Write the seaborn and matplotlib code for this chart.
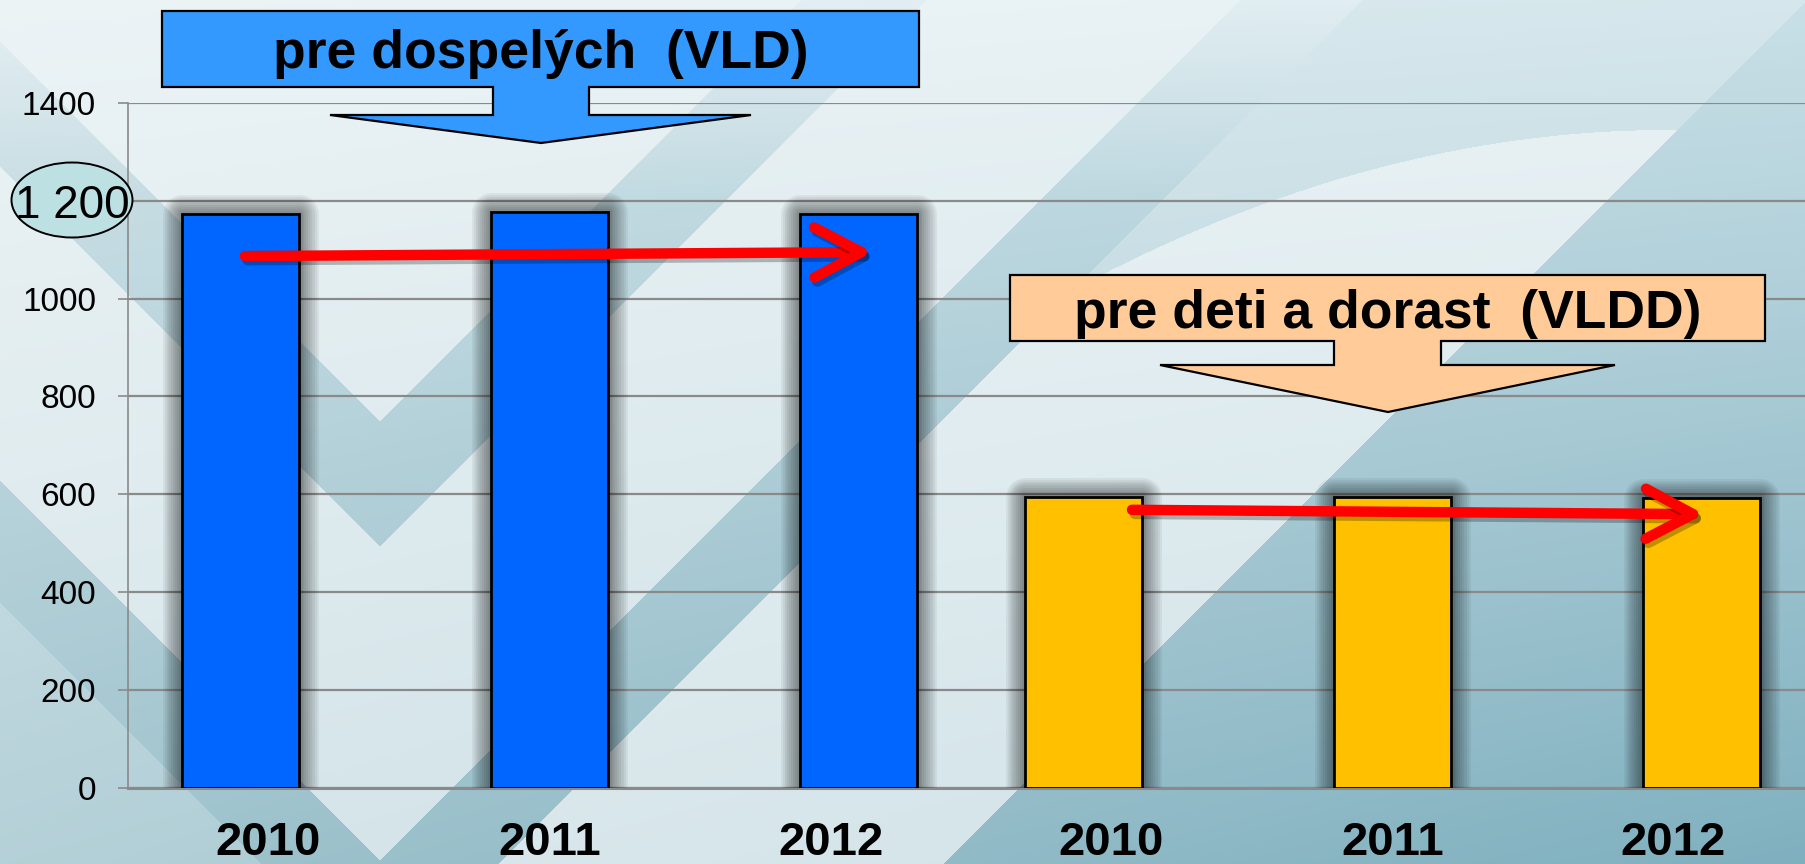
import numpy as np
import pandas as pd
import matplotlib
matplotlib.use("Agg")
import matplotlib.pyplot as plt
import seaborn as sns
from matplotlib.patches import Polygon, Ellipse, FancyArrowPatch, ArrowStyle
import matplotlib.patheffects as pe

# ---------------- data ----------------
years = ["2010", "2011", "2012"]
groups = ["VLD", "VLDD"]
vld_values = [1173, 1177, 1173]
vldd_values = [594, 594, 593]
y_ticks = [0, 200, 400, 600, 800, 1000, 1200, 1400]
y_tick_labels = ["0", "200", "400", "600", "800", "1000", "", "1400"]
highlight_label = "1 200"
callout_vld = "pre dospelých  (VLD)"
callout_vldd = "pre deti a dorast  (VLDD)"
group_colors = {"VLD": "#0066ff", "VLDD": "#ffc000"}

W, H = 1806, 864
sns.set_theme(style="white")
plt.rcParams["font.family"] = ["Liberation Sans", "DejaVu Sans"]

fig = plt.figure(figsize=(W / 100, H / 100), dpi=100)

# ---------------- background (decorative watermark) ----------------
def hex2rgb(h):
    return np.array([int(h[i:i + 2], 16) for i in (1, 3, 5)]) / 255.0

xx, yy = np.meshgrid(np.arange(W) + 0.5, np.arange(H) + 0.5)
fx, fy = (xx / W)[..., None], (yy / H)[..., None]
TL, TR, BL, BR = map(hex2rgb, ["#cfe2e8", "#c4dde5", "#9cc1cb", "#74a9b9"])
base = TL * (1 - fx) * (1 - fy) + TR * fx * (1 - fy) + BL * (1 - fx) * fy + BR * fx * fy
u = yy + np.abs(xx - 380)
w = xx + yy
yc = 130 + 160 * np.clip((1669 - xx) / 596, 0, 1) ** 2
f = np.full((H, W), 0.6)
band = ((u >= 422) & (u <= 546)) | ((u >= 861) & (u <= 982))
low = u > 982
f[low & (xx <= 380)] = 0.25
f[low & (xx > 380) & (w < 1808) & (yy >= yc)] = 0.65
f[low & (xx > 380) & (w < 1808) & (yy < yc)] = 0.3
f[low & (xx > 380) & (w >= 1808)] = 0.08
band_f = 0.06 + 0.4 * np.clip((200 - yy) / 200, 0, 1)
f[band] = band_f[band]
img = base * (1 - f[..., None]) + f[..., None]
bg = fig.add_axes([0, 0, 1, 1], zorder=-10)
bg.imshow(img, extent=(0, W, H, 0), aspect="auto", interpolation="bilinear")
bg.set_xlim(0, W)
bg.set_ylim(H, 0)
bg.axis("off")

# ---------------- main axes ----------------
y0, y1400 = 787.5, 103.0
ax = fig.add_axes([128 / W, (H - y0) / H, 1686 / W, (y0 - y1400) / H])
ax.patch.set_alpha(0)

df = pd.DataFrame({
    "group": np.repeat(groups, len(years)),
    "year": years * len(groups),
    "value": vld_values + vldd_values,
})
gi = df["group"].map({g: i for i, g in enumerate(groups)})
yi = df["year"].map({y: i for i, y in enumerate(years)})
df["pos"] = 3 * gi + 0.4 + 1.1 * yi

sns.barplot(data=df, x="pos", y="value", hue="group", palette=group_colors,
            native_scale=True, width=0.52, dodge=False, legend=False, saturation=1,
            edgecolor="black", linewidth=2, errorbar=None, ax=ax, zorder=3)

shadow = [pe.Stroke(linewidth=lw, foreground="black", alpha=0.055, joinstyle="round")
          for lw in (28, 25, 22, 19, 16, 13, 10, 7, 5)]
for p in ax.patches:
    p.set_path_effects(shadow + [pe.Normal()])

ax.set_xlim(0, 6)
ax.set_ylim(0, 1400)
ax.set_yticks(y_ticks)
ax.set_yticklabels(y_tick_labels, fontsize=24, color="black")
ax.yaxis.grid(True, color="#8a8a8a", lw=1.6)
ax.set_axisbelow(True)
ax.set_xticks(range(7))
ax.set_xticklabels([])
ax.set_xticks([i + 0.5 for i in range(6)], minor=True)
ax.set_xticklabels(years * 2, minor=True, fontsize=34, fontweight="bold", color="black")
ax.tick_params(axis="x", which="major", length=11, width=1.2, color="#8a8a8a", direction="out")
ax.tick_params(axis="x", which="minor", length=0, pad=24)
ax.tick_params(axis="y", length=7, width=1.2, color="#8a8a8a", direction="out", pad=16, left=True)
ax.set_xlabel("")
ax.set_ylabel("")
for s in ["top", "right"]:
    ax.spines[s].set_visible(False)
ax.spines["left"].set_color("#8a8a8a")
ax.spines["left"].set_linewidth(1.2)
ax.spines["bottom"].set_color("#8a8a8a")
ax.spines["bottom"].set_linewidth(2.2)

# trend arrows
arrow_style = ArrowStyle("->", head_length=34, head_width=18)
for (xa, ya), (xb, yb) in [((0.416, 1087), (2.65, 1095)), ((3.573, 568), (5.609, 559))]:
    arr = FancyArrowPatch((xa, ya), (xb, yb), arrowstyle=arrow_style, mutation_scale=1,
                          color="#ff0000", lw=7.5, shrinkA=0, shrinkB=0, zorder=6,
                          capstyle="round", joinstyle="round")
    arr.set_path_effects([pe.SimpleLineShadow(offset=(2, -3), shadow_color="black", alpha=0.25),
                          pe.Normal()])
    ax.add_patch(arr)

# ---------------- overlay annotations (pixel coords) ----------------
ov = fig.add_axes([0, 0, 1, 1], zorder=5)
ov.set_xlim(0, W)
ov.set_ylim(H, 0)
ov.axis("off")
ov.patch.set_alpha(0)

def callout(box, stem, head, tip, face):
    x0, y0_, x1, y1_ = box
    s0, s1, sy = stem
    h0, h1 = head
    pts = [(x0, y0_), (x1, y0_), (x1, y1_), (s1, y1_), (s1, sy), (h1, sy), tip,
           (h0, sy), (s0, sy), (s0, y1_), (x0, y1_)]
    ov.add_patch(Polygon(pts, closed=True, facecolor=face, edgecolor="black", lw=1.6))

callout((162, 11, 919, 87), (493, 589, 115), (330, 751), (541, 143), "#3399ff")
ov.text(541, 68, callout_vld, ha="center", va="baseline", fontsize=38.5, fontweight="bold", color="black")
callout((1010, 275, 1765, 341), (1334, 1441, 365), (1160, 1615), (1388, 412), "#ffcc99")
ov.text(1388, 328, callout_vldd, ha="center", va="baseline", fontsize=38.5, fontweight="bold", color="black")

ov.add_patch(Ellipse((72, 200), 121, 75, facecolor="#bde0e3", edgecolor="black", lw=1.4))
ov.text(72, 218, highlight_label, ha="center", va="baseline", fontsize=33, color="black")

fig.savefig("out.png", dpi=100)
